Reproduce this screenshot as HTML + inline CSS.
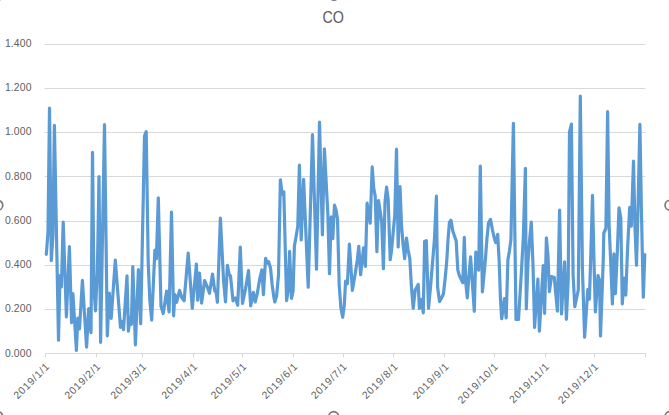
<!DOCTYPE html><html><head><meta charset="utf-8"><title>CO</title>
<style>html,body{margin:0;padding:0;background:#fff;overflow:hidden;}svg{display:block;position:absolute;left:0;top:0;}text{font-family:"Liberation Sans",sans-serif;}</style></head><body>
<svg width="669" height="415" viewBox="0 0 669 415">
<rect width="669" height="415" fill="#ffffff"/>
<line x1="44.5" y1="44.5" x2="645.5" y2="44.5" stroke="#d9d9d9" stroke-width="1"/>
<line x1="44.5" y1="88.5" x2="645.5" y2="88.5" stroke="#d9d9d9" stroke-width="1"/>
<line x1="44.5" y1="132.5" x2="645.5" y2="132.5" stroke="#d9d9d9" stroke-width="1"/>
<line x1="44.5" y1="176.5" x2="645.5" y2="176.5" stroke="#d9d9d9" stroke-width="1"/>
<line x1="44.5" y1="221.5" x2="645.5" y2="221.5" stroke="#d9d9d9" stroke-width="1"/>
<line x1="44.5" y1="265.5" x2="645.5" y2="265.5" stroke="#d9d9d9" stroke-width="1"/>
<line x1="44.5" y1="309.5" x2="645.5" y2="309.5" stroke="#d9d9d9" stroke-width="1"/>
<line x1="45.0" y1="353.5" x2="646.0" y2="353.5" stroke="#d9d9d9" stroke-width="1"/>
<line x1="45.50" y1="353.5" x2="45.50"  y2="357.3" stroke="#d9d9d9" stroke-width="1"/>
<line x1="96.50" y1="353.5" x2="96.50"  y2="357.3" stroke="#d9d9d9" stroke-width="1"/>
<line x1="142.50" y1="353.5" x2="142.50"  y2="357.3" stroke="#d9d9d9" stroke-width="1"/>
<line x1="193.50" y1="353.5" x2="193.50"  y2="357.3" stroke="#d9d9d9" stroke-width="1"/>
<line x1="242.50" y1="353.5" x2="242.50"  y2="357.3" stroke="#d9d9d9" stroke-width="1"/>
<line x1="293.50" y1="353.5" x2="293.50"  y2="357.3" stroke="#d9d9d9" stroke-width="1"/>
<line x1="343.50" y1="353.5" x2="343.50"  y2="357.3" stroke="#d9d9d9" stroke-width="1"/>
<line x1="393.50" y1="353.5" x2="393.50"  y2="357.3" stroke="#d9d9d9" stroke-width="1"/>
<line x1="444.50" y1="353.5" x2="444.50"  y2="357.3" stroke="#d9d9d9" stroke-width="1"/>
<line x1="494.50" y1="353.5" x2="494.50"  y2="357.3" stroke="#d9d9d9" stroke-width="1"/>
<line x1="545.50" y1="353.5" x2="545.50"  y2="357.3" stroke="#d9d9d9" stroke-width="1"/>
<line x1="594.50" y1="353.5" x2="594.50"  y2="357.3" stroke="#d9d9d9" stroke-width="1"/>
<line x1="645.50" y1="353.5" x2="645.50"  y2="357.3" stroke="#d9d9d9" stroke-width="1"/>
<text x="31.55" y="46.80" font-size="10.4" fill="#606060" text-anchor="end" letter-spacing="0.13">1.400</text>
<text x="31.55" y="91.06" font-size="10.4" fill="#606060" text-anchor="end" letter-spacing="0.13">1.200</text>
<text x="31.55" y="135.32" font-size="10.4" fill="#606060" text-anchor="end" letter-spacing="0.13">1.000</text>
<text x="31.55" y="179.58" font-size="10.4" fill="#606060" text-anchor="end" letter-spacing="0.13">0.800</text>
<text x="31.55" y="223.84" font-size="10.4" fill="#606060" text-anchor="end" letter-spacing="0.13">0.600</text>
<text x="31.55" y="268.10" font-size="10.4" fill="#606060" text-anchor="end" letter-spacing="0.13">0.400</text>
<text x="31.55" y="312.36" font-size="10.4" fill="#606060" text-anchor="end" letter-spacing="0.13">0.200</text>
<text x="31.55" y="356.62" font-size="10.4" fill="#606060" text-anchor="end" letter-spacing="0.13">0.000</text>
<text transform="translate(50.40,366.9) rotate(-45)" font-size="10.4" fill="#606060" text-anchor="end" letter-spacing="0.72">2019/1/1</text>
<text transform="translate(101.36,366.9) rotate(-45)" font-size="10.4" fill="#606060" text-anchor="end" letter-spacing="0.72">2019/2/1</text>
<text transform="translate(147.39,366.9) rotate(-45)" font-size="10.4" fill="#606060" text-anchor="end" letter-spacing="0.72">2019/3/1</text>
<text transform="translate(198.35,366.9) rotate(-45)" font-size="10.4" fill="#606060" text-anchor="end" letter-spacing="0.72">2019/4/1</text>
<text transform="translate(247.66,366.9) rotate(-45)" font-size="10.4" fill="#606060" text-anchor="end" letter-spacing="0.72">2019/5/1</text>
<text transform="translate(298.62,366.9) rotate(-45)" font-size="10.4" fill="#606060" text-anchor="end" letter-spacing="0.72">2019/6/1</text>
<text transform="translate(347.93,366.9) rotate(-45)" font-size="10.4" fill="#606060" text-anchor="end" letter-spacing="0.72">2019/7/1</text>
<text transform="translate(398.89,366.9) rotate(-45)" font-size="10.4" fill="#606060" text-anchor="end" letter-spacing="0.72">2019/8/1</text>
<text transform="translate(449.85,366.9) rotate(-45)" font-size="10.4" fill="#606060" text-anchor="end" letter-spacing="0.72">2019/9/1</text>
<text transform="translate(499.17,366.9) rotate(-45)" font-size="10.4" fill="#606060" text-anchor="end" letter-spacing="0.72">2019/10/1</text>
<text transform="translate(550.13,366.9) rotate(-45)" font-size="10.4" fill="#606060" text-anchor="end" letter-spacing="0.72">2019/11/1</text>
<text transform="translate(599.44,366.9) rotate(-45)" font-size="10.4" fill="#606060" text-anchor="end" letter-spacing="0.72">2019/12/1</text>
<text x="333.2" y="23.4" font-size="17.2" fill="#595959" text-anchor="middle" textLength="21.5" lengthAdjust="spacingAndGlyphs">CO</text>
<circle cx="-2.1" cy="205.3" r="4.85" fill="#fff" stroke="#787878" stroke-width="1.7"/>
<circle cx="669.9" cy="205.3" r="4.85" fill="#fff" stroke="#787878" stroke-width="1.7"/>
<circle cx="333.7" cy="416.5" r="4.85" fill="#fff" stroke="#787878" stroke-width="1.7"/>
<circle cx="334.0" cy="-4.7" r="4.85" fill="#fff" stroke="#787878" stroke-width="1.7"/>
<circle cx="-2.1" cy="-4.7" r="4.85" fill="#fff" stroke="#787878" stroke-width="1.7"/>
<circle cx="672.3" cy="-4.7" r="4.85" fill="#fff" stroke="#787878" stroke-width="1.7"/>
<circle cx="-2.1" cy="416.5" r="4.85" fill="#fff" stroke="#787878" stroke-width="1.7"/>
<circle cx="669.9" cy="416.5" r="4.85" fill="#fff" stroke="#787878" stroke-width="1.7"/>
<polyline points="46.3,254.5 48.0,232.0 49.5,108.2 51.3,260.7 52.9,236.0 54.4,125.4 58.5,340.2 60.0,275.5 61.4,287.0 63.2,222.1 66.4,316.9 69.4,246.7 71.6,322.7 72.9,293.5 76.4,350.5 77.8,318.0 79.5,329.0 82.4,280.3 86.6,347.2 88.7,308.7 91.0,332.7 92.5,152.3 94.0,290.0 95.5,310.9 97.4,270.0 99.0,176.5 100.6,342.3 104.5,124.7 107.3,335.8 109.3,293.0 111.2,318.4 115.3,260.2 120.5,327.3 122.0,321.5 123.5,329.6 127.0,275.8 128.4,331.1 130.2,317.0 131.4,324.3 132.8,266.6 135.4,344.8 138.4,269.6 140.7,323.6 144.5,136.0 146.2,131.7 148.2,262.0 149.8,300.0 151.7,320.2 154.9,250.0 156.4,258.7 158.3,197.9 161.0,306.0 163.2,313.5 166.6,291.2 169.1,312.0 171.5,212.1 173.6,315.8 174.9,294.5 176.6,302.3 179.6,290.4 182.0,298.0 184.1,300.8 188.2,253.1 192.3,308.3 196.4,264.2 197.7,300.1 199.5,273.2 201.6,303.1 204.6,280.7 207.3,287.0 209.5,293.3 212.5,274.0 214.8,291.0 216.2,292.5 217.4,302.3 220.4,218.1 223.6,281.0 225.5,301.9 227.4,265.3 229.0,274.0 230.5,276.0 233.0,300.8 235.4,297.9 237.7,305.3 240.3,247.0 242.5,303.5 245.5,289.0 248.5,270.7 250.7,305.8 253.4,292.4 255.2,302.0 257.4,293.0 259.7,279.0 261.9,270.0 263.4,294.6 265.6,258.3 267.1,263.2 268.6,261.7 270.5,268.0 272.2,285.0 273.8,297.0 274.8,302.0 276.6,296.0 278.5,275.0 280.4,179.8 282.1,194.2 283.8,191.9 286.6,300.6 288.3,290.0 289.6,251.3 291.5,298.3 293.1,291.0 294.4,246.0 296.2,236.0 297.8,226.0 299.4,165.0 301.2,240.0 303.6,179.4 308.2,287.1 312.5,134.7 316.5,269.1 319.5,122.0 322.4,234.8 324.4,148.9 327.8,213.0 329.5,273.6 331.2,216.8 332.8,238.7 334.5,205.2 336.0,210.0 337.5,218.7 339.2,285.0 340.9,308.0 342.7,317.3 344.3,305.0 345.6,281.0 347.4,283.7 349.4,244.1 352.4,290.3 355.5,272.0 357.3,260.0 358.8,246.3 360.6,274.7 363.6,247.8 365.4,266.4 367.1,203.2 370.2,223.2 372.2,166.8 373.7,188.0 375.2,196.0 376.9,251.6 378.5,200.5 380.0,210.0 381.7,222.0 383.4,268.7 385.0,202.0 386.6,187.1 388.2,200.0 390.2,259.7 391.6,250.0 393.2,232.0 394.8,215.0 396.5,149.1 398.2,247.0 400.0,186.5 401.5,225.0 403.1,245.0 404.7,258.7 406.5,238.2 408.0,249.5 409.8,258.5 411.3,285.0 413.2,308.3 415.2,290.0 418.2,284.4 419.4,308.3 421.4,299.4 423.3,312.8 424.6,241.5 426.3,240.7 428.5,308.3 430.5,287.0 432.6,262.0 434.4,240.0 436.4,196.2 437.6,287.0 439.5,301.6 441.5,298.0 443.4,294.0 445.0,280.0 446.7,262.0 448.0,240.0 449.4,222.5 451.0,220.2 452.8,231.0 454.5,236.0 456.2,241.0 457.8,270.0 459.5,276.0 461.0,279.0 462.8,282.7 464.3,237.4 465.8,283.0 467.3,297.8 469.0,275.0 470.6,256.8 472.5,285.0 474.3,311.3 475.8,252.0 477.3,262.0 478.7,270.2 480.3,166.0 482.4,291.8 484.0,275.0 485.5,258.0 487.0,238.0 488.5,223.0 490.5,219.4 492.5,230.0 494.0,237.0 495.7,242.5 497.7,234.4 499.2,262.0 500.5,300.0 501.7,318.7 504.4,298.6 506.2,318.0 507.9,260.0 509.4,251.0 510.9,240.0 513.4,123.3 516.0,319.5 518.5,319.5 521.5,270.0 523.3,238.0 525.4,168.4 526.3,308.8 528.0,262.0 529.6,240.0 531.3,222.2 533.0,265.0 534.6,327.5 537.9,279.0 539.4,331.1 541.2,300.0 543.2,265.5 544.6,313.3 546.4,237.9 548.0,256.0 549.4,291.6 551.5,276.5 554.3,277.5 557.4,311.1 559.6,210.2 561.5,314.0 563.2,285.0 564.6,261.8 566.4,319.3 568.2,280.0 569.5,132.0 571.4,124.1 573.1,275.0 574.8,306.6 576.6,298.0 578.3,290.0 580.3,96.0 582.4,268.0 584.6,337.2 587.8,289.5 589.4,299.1 590.6,262.0 592.5,195.3 594.0,262.0 595.4,311.8 598.0,275.5 599.5,280.0 600.5,335.9 603.2,262.0 603.8,233.0 605.9,228.5 607.6,111.7 609.1,225.0 610.8,264.0 612.4,304.0 613.9,253.8 615.4,293.7 617.3,252.0 619.0,207.8 620.8,218.0 622.3,304.0 624.2,278.0 625.8,295.1 627.5,250.0 629.7,207.4 631.3,226.2 633.5,161.2 634.9,225.0 636.5,265.2 638.2,200.0 639.9,124.4 641.5,215.0 643.3,297.1 644.8,254.5" fill="none" stroke="#5b9bd5" stroke-width="3.2" stroke-linejoin="round" stroke-linecap="round"/>
</svg></body></html>
